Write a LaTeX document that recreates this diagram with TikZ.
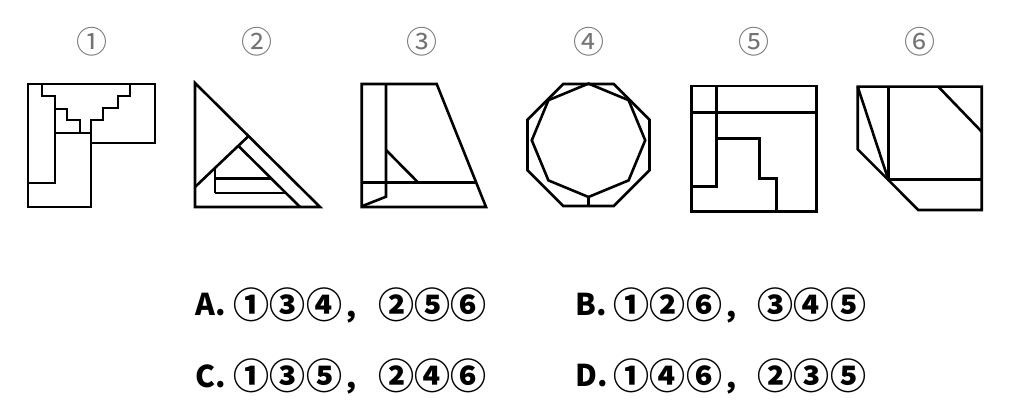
\documentclass[tikz,border=0pt]{standalone}
\usepackage{fontspec}
\newfontfamily\cjk{Noto Sans CJK SC}
\newcommand{\cnum}[1]{\makebox[36.5pt]{\fontsize{36}{36}\selectfont#1}}
\tikzset{
  fig/.style={line width=2.6pt, line join=miter, black},
  numlabel/.style={font=\cjk\fontsize{31}{36}\selectfont, text=black!55, inner sep=0pt},
  answer/.style={font=\cjk\bfseries\fontsize{30}{32}\selectfont, inner sep=0pt}
}
\begin{document}
\begin{tikzpicture}[x=1pt, y=-1pt]
  \useasboundingbox (0,0) rectangle (1018,414);

  % --- 1. 番号 ---
  \node[numlabel] (n1) at (91.5,42) {①};
  \node[numlabel] (n2) at (257,42) {②};
  \node[numlabel] (n3) at (422,42) {③};
  \node[numlabel] (n4) at (588.5,42) {④};
  \node[numlabel] (n5) at (754,42) {⑤};
  \node[numlabel] (n6) at (920,42) {⑥};

  % --- 2. 図① ---
  \draw[fig] (28,84) -- (155,84) -- (155,143) -- (91,143) -- (91,207) -- (28,207) -- cycle;
  \draw[fig] (42,84) -- (42,96) -- (55,96) -- (55,109) -- (67,109) -- (67,120) -- (80,120) -- (80,133);
  \draw[fig] (130,84) -- (130,96) -- (118,96) -- (118,108) -- (103,108) -- (103,120) -- (91,120) -- (91,143);
  \draw[fig] (55,109) -- (55,183) -- (28,183);
  \draw[fig] (55,133) -- (91,133);

  % --- 3. 図② ---
  \draw[fig] (195,83) -- (320,207) -- (195,207) -- cycle;
  \draw[fig] (195,187) -- (248.5,136.1);
  \draw[fig] (238.3,145.8) -- (300,207);
  \draw[fig] (215,168) -- (215,193);
  \draw[fig] (215,178.5) -- (271.3,178.5);
  \draw[fig] (215,193) -- (285.9,193);

  % --- 4. 図③ ---
  \draw[fig] (361.7,84) -- (436.7,84) -- (486,207) -- (361.7,207) -- cycle;
  \draw[fig] (386,84) -- (386,196.7) -- (362.5,206);
  \draw[fig] (361.7,182.7) -- (476.3,182.7);
  \draw[fig] (386,150) -- (418.3,182.7);

  % --- 5. 図④ (八角形 2 つ) ---
  \draw[fig, shift={(588.5,145)}]
    (22.5:66) -- (67.5:66) -- (112.5:66) -- (157.5:66) -- (202.5:66)
    -- (247.5:66) -- (292.5:66) -- (337.5:66) -- cycle;
  \draw[fig, shift={(588.5,140.3)}]
    (0:56.7) -- (45:56.7) -- (90:56.7) -- (135:56.7) -- (180:56.7)
    -- (225:56.7) -- (270:56.7) -- (315:56.7) -- cycle;
  \draw[fig] (588.5,197) -- (588.5,206);

  % --- 6. 図⑤ ---
  \draw[fig] (691.7,86) rectangle (816.7,211.7);
  \draw[fig] (691.7,112.7) -- (816.7,112.7);
  \draw[fig] (716.7,86) -- (716.7,186.7) -- (691.7,186.7);
  \draw[fig] (716.7,138.3) -- (759.3,138.3) -- (759.3,178.3) -- (776.7,178.3) -- (776.7,211.7);

  % --- 7. 図⑥ ---
  \draw[fig] (857.7,86.7) -- (981.7,86.7) -- (981.7,210) -- (918.3,210) -- (857.7,149.3) -- cycle;
  \draw[fig] (888.3,86.7) -- (888.3,179.6) -- (981.7,179.6);
  \draw[fig] (857.7,86.7) -- (888.3,179.6);
  \draw[fig] (938.3,86.7) -- (981.7,131.7);

  % --- 8. 選択肢 ---
  \node[answer, anchor=west] (optA) at (195,305) {A.};
  \node[answer, anchor=west] (optAl) at (232.75,305) {\cnum{①}\cnum{③}\cnum{④}，};
  \node[answer] (optAr) at (432.5,305) {\cnum{②}\cnum{⑤}\cnum{⑥}};
  \node[answer, anchor=west] (optB) at (575,305) {B.};
  \node[answer, anchor=west] (optBl) at (612.75,305) {\cnum{①}\cnum{②}\cnum{⑥}，};
  \node[answer] (optBr) at (812,305) {\cnum{③}\cnum{④}\cnum{⑤}};
  \node[answer, anchor=west] (optC) at (195,376) {C.};
  \node[answer, anchor=west] (optCl) at (232.75,376) {\cnum{①}\cnum{③}\cnum{⑤}，};
  \node[answer] (optCr) at (432.5,376) {\cnum{②}\cnum{④}\cnum{⑥}};
  \node[answer, anchor=west] (optD) at (575,376) {D.};
  \node[answer, anchor=west] (optDl) at (612.75,376) {\cnum{①}\cnum{④}\cnum{⑥}，};
  \node[answer] (optDr) at (812,376) {\cnum{②}\cnum{③}\cnum{⑤}};

\end{tikzpicture}
\end{document}
